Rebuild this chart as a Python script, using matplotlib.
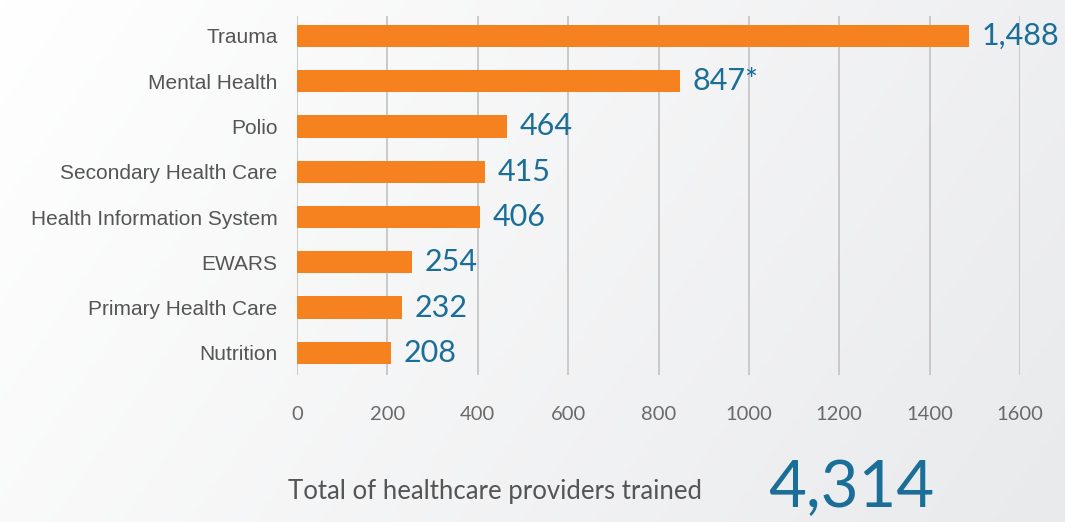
import numpy as np
import matplotlib.pyplot as plt

categories = ['Trauma', 'Mental Health', 'Polio', 'Secondary Health Care',
              'Health Information System', 'EWARS', 'Primary Health Care', 'Nutrition']
values = [1488, 847, 464, 415, 406, 254, 232, 208]
labels = ['1,488', '847*', '464', '415', '406', '254', '232', '208']
xticks = [0, 200, 400, 600, 800, 1000, 1200, 1400, 1600]
total_text = 'Total of healthcare providers trained'
total_value = '4,314'

orange = '#f5821f'
blue = '#1b6e98'
grey_txt = '#555555'

fig = plt.figure(figsize=(10.65, 5.22), dpi=100)

# soft background gradient (white top-left -> light grey right)
bg = fig.add_axes([0, 0, 1, 1], zorder=-10)
gx, gy = np.meshgrid(np.linspace(0, 1, 300), np.linspace(0, 1, 150))
grad = 0.75 * gx + 0.25 * gy
bg.imshow(grad, cmap=plt.matplotlib.colors.LinearSegmentedColormap.from_list(
    'bg', ['#ffffff', '#e9eaec']), aspect='auto', extent=[0, 1, 0, 1], origin='upper')
bg.axis('off')

ax = fig.add_axes([297 / 1065, 1 - 375 / 522, 723 / 1065, 359 / 522])
ax.patch.set_alpha(0)
y = np.arange(len(categories))
ax.barh(y, values, height=0.49, color=orange, zorder=3)
ax.set_xlim(0, 1600)
ax.set_ylim(7.49, -0.44)
ax.set_xticks(xticks)
ax.set_xticklabels([str(t) for t in xticks], fontsize=14.5, color='#6a6a6a',
                   family='Lato')
ax.set_yticks(y)
ax.set_yticklabels(categories, fontsize=15, color=grey_txt, family='Liberation Sans')
ax.tick_params(axis='both', length=0)
ax.tick_params(axis='x', pad=22)
ax.tick_params(axis='y', pad=14)
ax.grid(axis='x', color='#c6c6c6', linewidth=1.3, zorder=0)
for s in ax.spines.values():
    s.set_visible(False)

for yi, v, lab in zip(y, values, labels):
    ax.text(v + 28, yi, lab, va='center', ha='left', fontsize=22, color=blue,
            family='Lato', clip_on=False, zorder=4)

fig.text(288 / 1065, 1 - 492 / 522, total_text, fontsize=18.5, color=grey_txt,
         family='Lato', va='center', ha='left')
fig.text(768 / 1065, 1 - 489 / 522, total_value, fontsize=47, color=blue,
         family='Lato', va='center', ha='left')

fig.savefig('out.png', dpi=100)
